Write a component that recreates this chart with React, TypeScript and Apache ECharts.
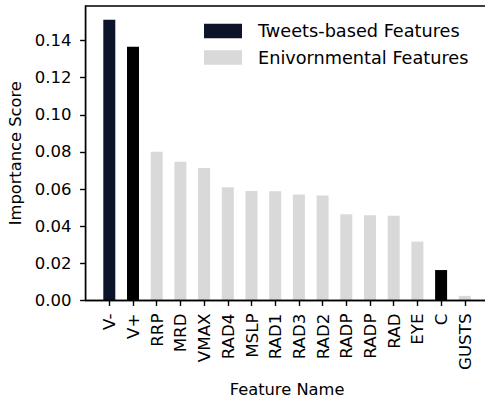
import React, { useEffect, useRef } from "react";
import * as echarts from "echarts";

const features = ["V-", "V+", "RRP", "MRD", "VMAX", "RAD4", "MSLP", "RAD1", "RAD3", "RAD2", "RADP", "RADP", "RAD", "EYE", "C", "GUSTS"];
const importance = [0.1512, 0.1366, 0.0801, 0.0747, 0.0714, 0.0610, 0.0590, 0.0588, 0.0571, 0.0565, 0.0464, 0.0459, 0.0457, 0.0317, 0.0164, 0.0025];
const featureGroup = ["tweet", "tweet", "env", "env", "env", "env", "env", "env", "env", "env", "env", "env", "env", "env", "tweet", "env"];
const yTicks = [0, 0.02, 0.04, 0.06, 0.08, 0.1, 0.12, 0.14];

const TWEET_NAME = "Tweets-based Features";
const ENV_NAME = "Enivornmental Features";
const NAVY = "#0c1429";
const BLACK = "#000000";
const GRAY = "#d9d9d9";
const tweetBarColor: Record<string, string> = { "V-": NAVY, "V+": BLACK, C: BLACK };

const FONT = "DejaVu Sans";

export default function App() {
  const ref = useRef<HTMLDivElement>(null);
  useEffect(() => {
    if (!ref.current) return;
    const chart = echarts.init(ref.current, undefined, { renderer: "svg" });
    const idx = features.map((_, i) => i);
    const tweetData = idx
      .filter((i) => featureGroup[i] === "tweet")
      .map((i) => ({ value: [i, importance[i]], itemStyle: { color: tweetBarColor[features[i]] || NAVY } }));
    const envData = idx
      .filter((i) => featureGroup[i] === "env")
      .map((i) => ({ value: [i, importance[i]] }));
    chart.setOption({
      animation: false,
      backgroundColor: "#ffffff",
      textStyle: { fontFamily: FONT },
      grid: {
        left: 85.6,
        top: 6,
        width: 17 * 23.7,
        height: 294.5,
        show: true,
        z: 20,
        outerBoundsMode: "none",
        containLabel: false,
        borderColor: "#000",
        borderWidth: 1.4,
        backgroundColor: "transparent",
      },
      legend: {
        orient: "vertical",
        left: 199,
        top: 17,
        itemWidth: 38,
        itemHeight: 14.5,
        itemGap: 8.5,
        icon: "rect",
        textStyle: { fontFamily: FONT, fontSize: 17.7, color: "#000", padding: [0, 0, 0, 11] },
        data: [
          { name: TWEET_NAME, itemStyle: { color: NAVY } },
          { name: ENV_NAME, itemStyle: { color: GRAY } },
        ],
      },
      xAxis: {
        type: "value",
        min: -1,
        max: 16,
        z: 20,
        name: "Feature Name",
        nameLocation: "middle",
        nameGap: 81,
        nameTextStyle: { fontFamily: FONT, fontSize: 16.3, color: "#000" },
        axisLine: { show: true, onZero: false, lineStyle: { color: "#000", width: 1.4 } },
        axisTick: { show: true, length: 5.5, lineStyle: { color: "#000", width: 1.4 }, customValues: idx },
        splitLine: { show: false },
        axisLabel: {
          customValues: idx,
          rotate: 90,
          margin: 13,
          fontFamily: FONT,
          fontSize: 16.7,
          color: "#000",
          formatter: (v: number) => features[Math.round(v)] ?? "",
        },
      },
      yAxis: {
        type: "value",
        min: 0,
        max: 0.1586,
        z: 20,
        name: "Importance Score",
        nameLocation: "middle",
        nameGap: 61,
        nameTextStyle: { fontFamily: FONT, fontSize: 16.3, color: "#000" },
        axisLine: { show: true, onZero: false, lineStyle: { color: "#000", width: 1.4 } },
        axisTick: { show: true, length: 5.5, lineStyle: { color: "#000", width: 1.4 }, customValues: yTicks },
        splitLine: { show: false },
        axisLabel: {
          customValues: yTicks,
          margin: 14,
          fontFamily: FONT,
          fontSize: 16.5,
          color: "#000",
          formatter: (v: number) => v.toFixed(2),
        },
      },
      series: [
        { name: TWEET_NAME, type: "bar", z: 1, data: tweetData, barWidth: 12, barGap: "-100%", itemStyle: { color: NAVY } },
        { name: ENV_NAME, type: "bar", z: 1, data: envData, barWidth: 12, barGap: "-100%", itemStyle: { color: GRAY } },
      ],
    });
    return () => chart.dispose();
  }, []);
  return <div ref={ref} style={{ position: "fixed", left: 0, top: 0, width: 485, height: 400 }} />;
}
